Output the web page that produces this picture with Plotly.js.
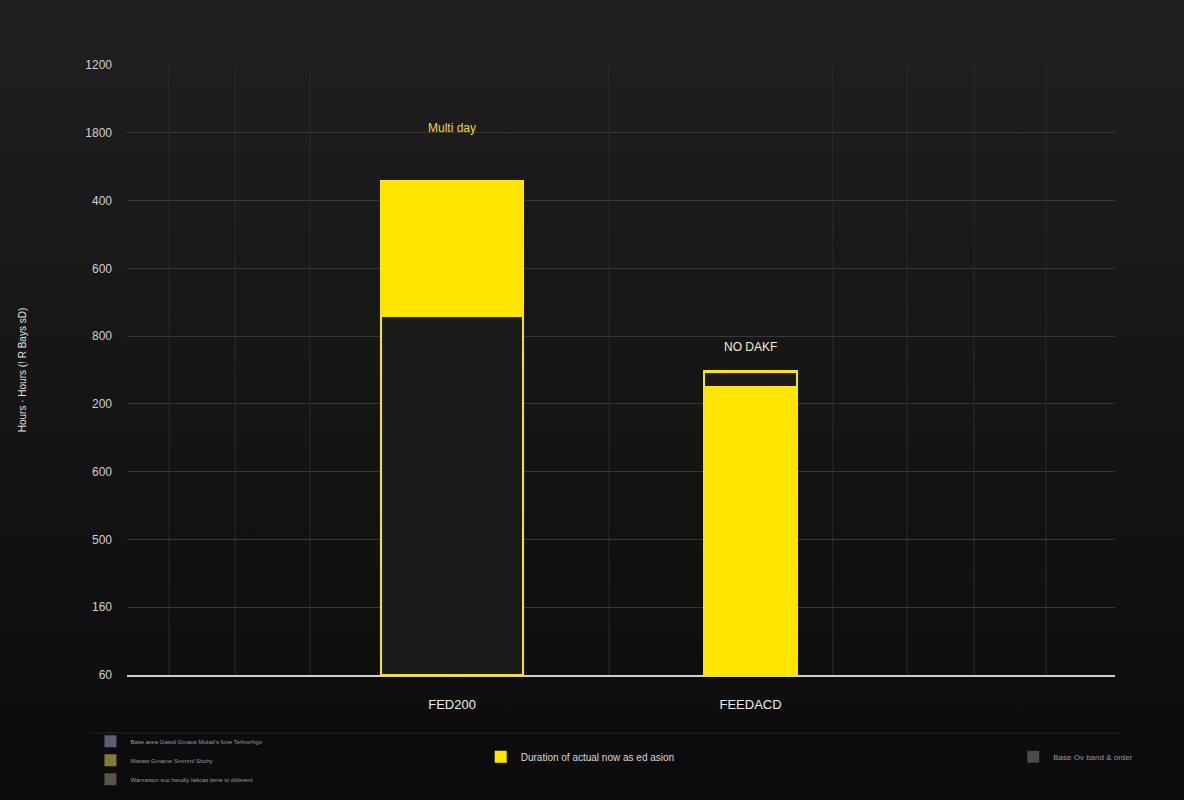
<!DOCTYPE html>
<html>
<head>
<meta charset="utf-8">
<script src="https://cdn.plot.ly/plotly-3.0.1.min.js"></script>
<style>
  html, body { margin: 0; padding: 0; }
  body { width: 1184px; height: 800px; background: linear-gradient(180deg, #202020 0%, #161616 45%, #0b0b0b 100%); }
  #chart { width: 1184px; height: 800px; }
</style>
</head>
<body>
<div id="chart"></div>
<script>
// categories and segment values (axis units)
var categories = ['FED200', 'FEEDACD'];
var lowerSeg = [530, 425];
var upperSeg = [199, 23];
var barWidths = [0.476, 0.312];
var barLabels = ['Multi day', 'NO DAKF'];

// y tick labels as printed, bottom to top
var yTickVals = [0, 100, 200, 300, 400, 500, 600, 700, 800, 900];
var yTickText = ['60', '160', '500', '600', '200', '800', '600', '400', '1800', '1200'];

// legend-only entries
var smallLegendNames = [
    'Base area Gated Gmaus Mutati\'s fune Tehnerhgs',
    'Mistast Gmame Smmml Sttchy',
    'Wanrasion suc heudly Iakcas twne to ditferent'
];
var smallLegendColors = ['#596075', '#857a35', '#5b5445'];

var yellow = '#ffe500';
var dark = '#1a1a1a';

var traceLower = {
    x: categories,
    y: lowerSeg,
    width: barWidths,
    type: 'bar',
    showlegend: false,
    hoverinfo: 'skip',
    marker: { color: [dark, yellow], line: { color: yellow, width: 2.5 } }
};
var traceUpper = {
    x: categories,
    y: upperSeg,
    width: barWidths,
    type: 'bar',
    showlegend: false,
    hoverinfo: 'skip',
    marker: { color: [yellow, dark], line: { color: yellow, width: 2.5 } }
};

var data = [traceLower, traceUpper];
for (var i = 0; i < smallLegendNames.length; i++) {
    data.push({
        x: [categories[0]],
        y: [null],
        type: 'bar',
        name: smallLegendNames[i],
        legend: 'legend',
        marker: { color: smallLegendColors[i] }
    });
}
data.push({
    x: [categories[0]], y: [null], type: 'bar',
    name: 'Duration of actual now as ed asion',
    legend: 'legend2',
    marker: { color: yellow }
});
data.push({
    x: [categories[0]], y: [null], type: 'bar',
    name: 'Base Ov band & order',
    legend: 'legend3',
    marker: { color: '#4a4a4a' }
});

// faint vertical gridlines (category units)
var vGrid = [-0.948, -0.727, -0.476, 0.526, 1.276, 1.524, 1.749, 1.990];
var shapes = [];
for (var j = 0; j < vGrid.length; j++) {
    shapes.push({
        type: 'line', xref: 'x', yref: 'paper', layer: 'below',
        x0: vGrid[j], x1: vGrid[j], y0: 0, y1: 1,
        line: { color: '#2c2c2c', width: 1 }
    });
}
shapes.push({
    type: 'line', xref: 'paper', yref: 'paper',
    x0: -0.037, x1: 1.005, y0: -0.095, y1: -0.095,
    line: { color: '#262626', width: 1 }
});

var annotations = [];
for (var k = 0; k < categories.length; k++) {
    var total = lowerSeg[k] + upperSeg[k];
    annotations.push({
        x: categories[k], y: total + (k === 0 ? 78 : 36),
        text: barLabels[k], showarrow: false,
        font: { family: 'Liberation Sans, Arial, sans-serif', size: 12, color: k === 0 ? '#f2d826' : '#f4efcf' }
    });
}

var layout = {
    width: 1184,
    height: 800,
    margin: { l: 127, r: 69, t: 65, b: 125, autoexpand: false },
    paper_bgcolor: 'rgba(0,0,0,0)',
    plot_bgcolor: 'rgba(0,0,0,0)',
    barmode: 'stack',
    font: { family: 'Liberation Sans, Arial, sans-serif', color: '#d6d6d6' },
    xaxis: {
        type: 'category',
        range: [-1.089, 2.221],
        showgrid: false,
        zeroline: false,
        showline: true,
        linecolor: '#cfcfcf',
        linewidth: 2,
        ticks: '',
        ticklabelstandoff: 16,
        tickfont: { size: 13, color: '#ececec' }
    },
    yaxis: {
        range: [0, 900],
        tickvals: yTickVals,
        ticktext: yTickText,
        showgrid: true,
        gridcolor: '#383838',
        gridwidth: 1,
        zeroline: false,
        ticks: '',
        ticklabelstandoff: 14,
        tickfont: { size: 12, color: '#d0d0d0' },
        title: {
            text: 'Hours · Hours (! R Bays sD)',
            font: { size: 10, color: '#e0e0e0' },
            standoff: 56
        }
    },
    legend: {
        x: -0.037, y: -0.085, xanchor: 'left', yanchor: 'top',
        orientation: 'v',
        traceorder: 'normal',
        bgcolor: 'rgba(0,0,0,0)',
        font: { size: 6, color: '#9a9a9a' },
        itemwidth: 30,
        tracegroupgap: 0
    },
    legend2: {
        x: 0.358, y: -0.134, xanchor: 'left', yanchor: 'middle',
        bgcolor: 'rgba(0,0,0,0)',
        font: { size: 10, color: '#d8d8d8' }
    },
    legend3: {
        x: 0.897, y: -0.134, xanchor: 'left', yanchor: 'middle',
        bgcolor: 'rgba(0,0,0,0)',
        font: { size: 8, color: '#9a9a9a' }
    },
    shapes: shapes,
    annotations: annotations
};

Plotly.newPlot('chart', data, layout, { displayModeBar: false, staticPlot: true });
</script>
</body>
</html>
